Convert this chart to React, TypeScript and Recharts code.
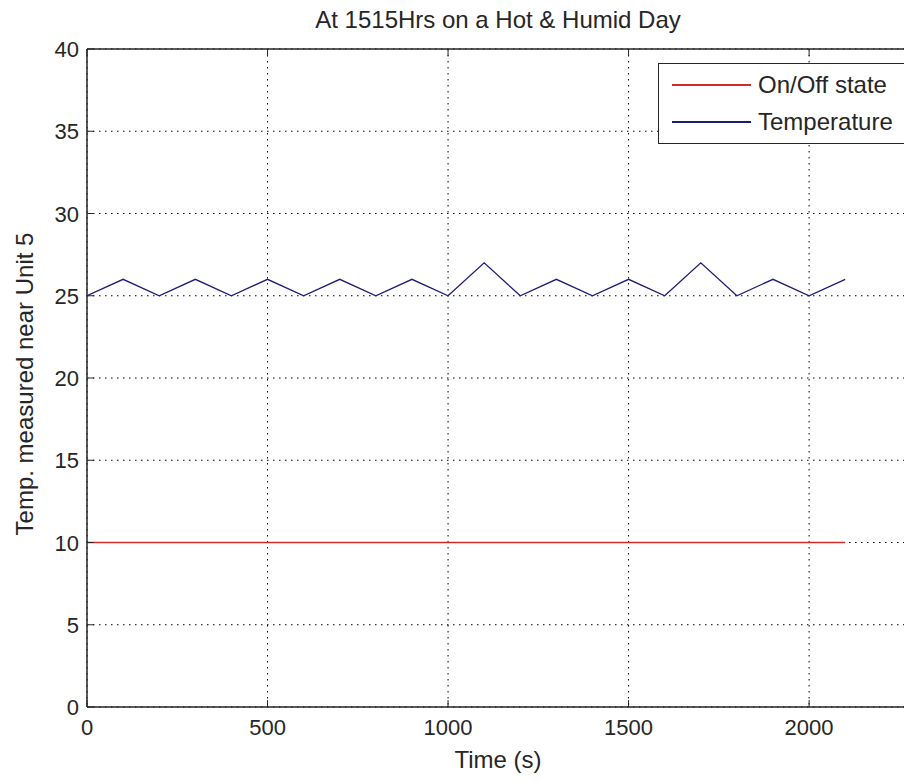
import React from 'react';
import { LineChart, Line, XAxis, YAxis, CartesianGrid, ReferenceLine } from 'recharts';

const timeSeconds = [
  0, 100, 200, 300, 400, 500, 600, 700, 800, 900, 1000,
  1100, 1200, 1300, 1400, 1500, 1600, 1700, 1800, 1900, 2000, 2100,
];
const temperature = [
  25, 26, 25, 26, 25, 26, 25, 26, 25, 26, 25,
  27, 25, 26, 25, 26, 25, 27, 25, 26, 25, 26,
];
const onOffState = [
  10, 10, 10, 10, 10, 10, 10, 10, 10, 10, 10,
  10, 10, 10, 10, 10, 10, 10, 10, 10, 10, 10,
];
const xTicks = [0, 500, 1000, 1500, 2000];
const yTicks = [0, 5, 10, 15, 20, 25, 30, 35, 40];

const data = timeSeconds.map((t, i) => ({
  time: t,
  temp: temperature[i],
  state: onOffState[i],
}));

const WIDTH = 912;
const HEIGHT = 781;
const PLOT_LEFT = 87;
const PLOT_TOP = 49;
const PLOT_BOTTOM = 707;
const X_MAX = 2285;
const FONT = '"Liberation Sans", Arial, sans-serif';
const INK = '#262626';

const XTick = (props: any) => {
  const { x, payload } = props;
  return (
    <g>
      <line x1={x} x2={x} y1={PLOT_BOTTOM} y2={PLOT_BOTTOM - 7} stroke={INK} />
      <line x1={x} x2={x} y1={PLOT_TOP} y2={PLOT_TOP + 7} stroke={INK} />
      <text x={x} y={PLOT_BOTTOM + 28} textAnchor="middle" fontSize={22} fill={INK} fontFamily={FONT}>
        {payload.value}
      </text>
    </g>
  );
};

const YTick = (props: any) => {
  const { y, payload } = props;
  return (
    <g>
      <line x1={PLOT_LEFT} x2={PLOT_LEFT + 7} y1={y} y2={y} stroke={INK} />
      <text x={PLOT_LEFT - 8} y={y + 8} textAnchor="end" fontSize={22} fill={INK} fontFamily={FONT}>
        {payload.value}
      </text>
    </g>
  );
};

const legendItems = [
  { label: 'On/Off state', color: '#d02a2a' },
  { label: 'Temperature', color: '#1c1c78' },
];

export default function App() {
  return (
    <div style={{ position: 'relative', margin: -8, width: WIDTH, height: HEIGHT, background: '#fff', overflow: 'hidden' }}>
      <LineChart
        width={WIDTH}
        height={HEIGHT}
        data={data}
        margin={{ top: PLOT_TOP, right: 0, left: 0, bottom: 0 }}
      >
        <CartesianGrid stroke="#000" strokeDasharray="1.5 4.5" />
        <XAxis
          dataKey="time"
          type="number"
          domain={[0, X_MAX]}
          ticks={xTicks}
          allowDataOverflow
          height={HEIGHT - PLOT_BOTTOM}
          tickLine={false}
          tickSize={0}
          tickMargin={0}
          axisLine={{ stroke: INK, strokeWidth: 1.5 }}
          tick={<XTick />}
        />
        <YAxis
          type="number"
          domain={[0, 40]}
          ticks={yTicks}
          width={PLOT_LEFT}
          tickLine={false}
          tickSize={0}
          tickMargin={0}
          axisLine={{ stroke: INK, strokeWidth: 1.5 }}
          tick={<YTick />}
        />
        <ReferenceLine y={40} stroke={INK} strokeWidth={1.5} />
        <Line
          dataKey="state"
          stroke={legendItems[0].color}
          strokeWidth={1.3}
          dot={false}
          isAnimationActive={false}
        />
        <Line
          dataKey="temp"
          stroke={legendItems[1].color}
          strokeWidth={1.3}
          dot={false}
          isAnimationActive={false}
        />
        <text x={498} y={28} textAnchor="middle" fontSize={24} fill={INK} fontFamily={FONT}>
          At 1515Hrs on a Hot &amp; Humid Day
        </text>
        <text x={498} y={768} textAnchor="middle" fontSize={24} fill={INK} fontFamily={FONT}>
          Time (s)
        </text>
        <text
          x={0}
          y={0}
          transform="translate(33, 384) rotate(-90)"
          textAnchor="middle"
          fontSize={24}
          fill={INK}
          fontFamily={FONT}
        >
          Temp. measured near Unit 5
        </text>
      </LineChart>
      <div
        style={{
          position: 'absolute',
          left: 658,
          top: 63,
          width: 250,
          height: 81,
          border: `1px solid ${INK}`,
          background: '#fff',
          boxSizing: 'border-box',
          fontFamily: FONT,
          fontSize: 24,
          color: INK,
        }}
      >
        {legendItems.map((item, i) => (
          <div
            key={item.label}
            style={{ position: 'absolute', left: 13, top: 6 + i * 37, height: 30, display: 'flex', alignItems: 'center' }}
          >
            <div style={{ width: 79, height: 2, background: item.color }} />
            <span style={{ marginLeft: 7, lineHeight: '30px' }}>{item.label}</span>
          </div>
        ))}
      </div>
    </div>
  );
}
